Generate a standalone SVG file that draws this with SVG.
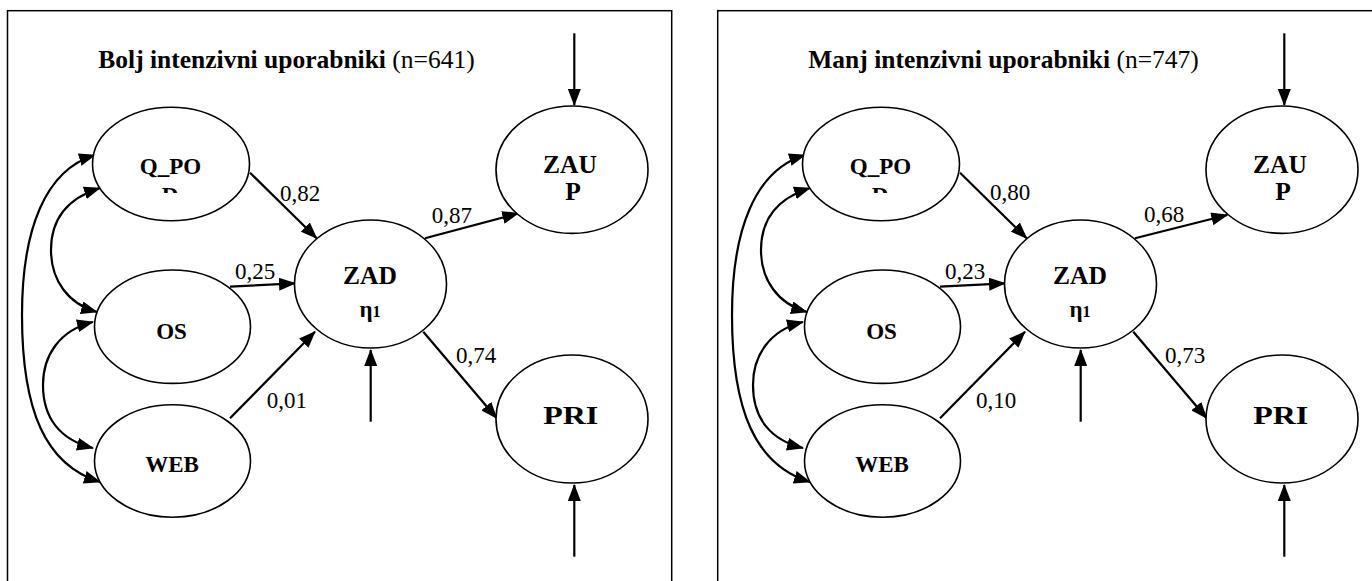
<svg xmlns="http://www.w3.org/2000/svg" width="1372" height="581" viewBox="0 0 1372 581">
<style>
  .frame { fill: none; stroke: #000; stroke-width: 1.5; }
  .node { fill: #fff; stroke: #000; stroke-width: 1.6; }
  .conn { fill: none; stroke: #000; stroke-width: 2.2; }
  .arrow { marker-end: url(#ah); }
  .both { marker-start: url(#ah); marker-end: url(#ah); }
  text { font-family: "Liberation Serif", "Times New Roman", serif; fill: #000; }
  .title { font-size: 25.5px; }
  .lbl { font-size: 23px; font-weight: bold; text-anchor: middle; }
  .big { font-size: 25.5px; font-weight: bold; text-anchor: middle; }
  .coef { font-size: 23px; }
</style>
<defs>
  <marker id="ah" viewBox="0 0 17 13" refX="16" refY="6.5" markerWidth="17" markerHeight="13" markerUnits="userSpaceOnUse" orient="auto-start-reverse">
    <path d="M0,0 L17,6.5 L0,13 Z" fill="#000"/>
  </marker>
  <clipPath id="clipD" clipPathUnits="userSpaceOnUse">
    <rect x="0" y="0" width="1372" height="193"/>
  </clipPath>
</defs>
<rect fill="#fff" x="0" y="0" width="1372" height="581"/>

<!-- LEFT PANEL -->
<g id="left-frame">
  <rect class="frame" x="7.5" y="10.7" width="664.2" height="620"/>
  <text class="title" x="98.3" y="68.3"><tspan font-weight="bold">Bolj intenzivni uporabniki</tspan> (n=641)</text>
</g>
<g id="left-connectors">
  <path class="conn arrow" d="M250,172.7 L316.7,238.3"/>
  <path class="conn arrow" d="M230,286.7 L295,283.3"/>
  <path class="conn arrow" d="M230,418.3 L315,331.7"/>
  <path class="conn arrow" d="M425,238.3 L518.3,213.3"/>
  <path class="conn arrow" d="M423.3,331.7 L496.7,418.3"/>
  <path class="conn arrow" d="M574.3,33.3 L574.3,105"/>
  <path class="conn arrow" d="M370.7,421.7 L370.7,350"/>
  <path class="conn arrow" d="M574.3,556.7 L574.3,485"/>
  <path class="conn both" d="M95,155 C45,170 22,230 22,315 C22,410 45,465 100,482"/>
  <path class="conn both" d="M100,188 C62,200 51,225 51,250 C51,280 68,304 97,312"/>
  <path class="conn both" d="M93,322 C60,330 43,355 43,385 C43,418 60,440 93,448"/>
  <text class="coef" x="280" y="200.7">0,82</text>
  <text class="coef" x="235" y="279">0,25</text>
  <text class="coef" x="266.7" y="408.3">0,01</text>
  <text class="coef" x="431.7" y="222.7">0,87</text>
  <text class="coef" x="456" y="362.7">0,74</text>
</g>
<g id="left-QPOD">
  <ellipse class="node" cx="171" cy="164" rx="78.5" ry="56.7"/>
  <text class="lbl" x="170.5" y="174">Q_PO</text>
  <text class="lbl" x="170" y="202.5" clip-path="url(#clipD)">D</text>
</g>
<g id="left-OS">
  <ellipse class="node" cx="172.5" cy="326.7" rx="78" ry="56.7"/>
  <text class="lbl" x="171.5" y="338.5">OS</text>
</g>
<g id="left-WEB">
  <ellipse class="node" cx="172.5" cy="461" rx="78" ry="56.2"/>
  <text class="lbl" x="172" y="472">WEB</text>
</g>
<g id="left-ZAD">
  <ellipse class="node" cx="370.5" cy="284" rx="76" ry="64"/>
  <text class="big" x="370" y="284">ZAD</text>
  <text class="lbl" x="370" y="317">η<tspan font-size="16">1</tspan></text>
</g>
<g id="left-ZAUP">
  <ellipse class="node" cx="572" cy="169.7" rx="76" ry="63.7"/>
  <text class="big" x="570" y="172.7">ZAU</text>
  <text class="big" x="573" y="200">P</text>
</g>
<g id="left-PRI">
  <ellipse class="node" cx="572" cy="419" rx="76" ry="64"/>
  <text class="big" x="570.8" y="424" font-size="26" textLength="55" lengthAdjust="spacingAndGlyphs">PRI</text>
</g>

<!-- RIGHT PANEL -->
<g id="right-frame">
  <rect class="frame" x="717.7" y="10.7" width="700" height="620"/>
  <text class="title" x="808.3" y="68.3"><tspan font-weight="bold">Manj intenzivni uporabniki</tspan> (n=747)</text>
</g>
<g id="right-connectors" transform="translate(710,0)">
  <path class="conn arrow" d="M250,172.7 L316.7,238.3"/>
  <path class="conn arrow" d="M230,286.7 L295,283.3"/>
  <path class="conn arrow" d="M230,418.3 L315,331.7"/>
  <path class="conn arrow" d="M425,238.3 L517.3,215"/>
  <path class="conn arrow" d="M423.3,331.7 L496.7,418.3"/>
  <path class="conn arrow" d="M574.3,33.3 L574.3,105"/>
  <path class="conn arrow" d="M370.7,421.7 L370.7,350"/>
  <path class="conn arrow" d="M574.3,556.7 L574.3,485"/>
  <path class="conn both" d="M95,155 C45,170 22,230 22,315 C22,410 45,465 100,482"/>
  <path class="conn both" d="M100,188 C62,200 51,225 51,250 C51,280 68,304 97,312"/>
  <path class="conn both" d="M93,322 C60,330 43,355 43,385 C43,418 60,440 93,448"/>
  <text class="coef" x="280" y="200">0,80</text>
  <text class="coef" x="235" y="279.3">0,23</text>
  <text class="coef" x="266" y="408.3">0,10</text>
  <text class="coef" x="434" y="221.7">0,68</text>
  <text class="coef" x="455" y="362.7">0,73</text>
</g>
<g id="right-QPOD" transform="translate(710,0)">
  <ellipse class="node" cx="171" cy="164" rx="78.5" ry="56.7"/>
  <text class="lbl" x="170.5" y="174">Q_PO</text>
  <text class="lbl" x="170" y="202.5" clip-path="url(#clipD)">D</text>
</g>
<g id="right-OS" transform="translate(710,0)">
  <ellipse class="node" cx="172.5" cy="326.7" rx="78" ry="56.7"/>
  <text class="lbl" x="171.5" y="338.5">OS</text>
</g>
<g id="right-WEB" transform="translate(710,0)">
  <ellipse class="node" cx="172.5" cy="461" rx="78" ry="56.2"/>
  <text class="lbl" x="172" y="472">WEB</text>
</g>
<g id="right-ZAD" transform="translate(710,0)">
  <ellipse class="node" cx="370.5" cy="284" rx="76" ry="64"/>
  <text class="big" x="370" y="284">ZAD</text>
  <text class="lbl" x="370" y="317">η<tspan font-size="16">1</tspan></text>
</g>
<g id="right-ZAUP" transform="translate(710,0)">
  <ellipse class="node" cx="572" cy="169.7" rx="76" ry="63.7"/>
  <text class="big" x="570" y="172.7">ZAU</text>
  <text class="big" x="573" y="200">P</text>
</g>
<g id="right-PRI" transform="translate(710,0)">
  <ellipse class="node" cx="572" cy="419" rx="76" ry="64"/>
  <text class="big" x="570.8" y="424" font-size="26" textLength="55" lengthAdjust="spacingAndGlyphs">PRI</text>
</g>
</svg>
